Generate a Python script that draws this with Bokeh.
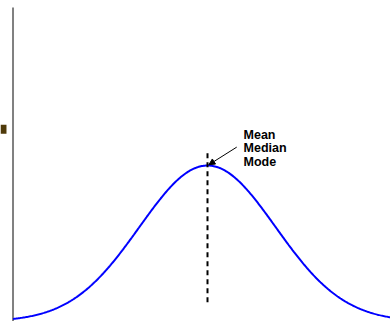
from bokeh.plotting import figure
from bokeh.models import Arrow, NormalHead, Range1d
from bokeh.core.properties import value
from bokeh.embed import file_html
from bokeh.resources import INLINE
import numpy as np

# distribution parameters
mean = 0.0
sd = 1.0
x_start, x_stop = -2.86, 3.0

# annotation texts
labels = ["Mean", "Median", "Mode"]
label_y = [0.4782, 0.4432, 0.4082]
label_x = 0.53

# dashed mean line extent
mean_line_y = [0.049, 0.437]

# axis line
axis_x = -2.86
axis_y = [0.803, 0.0]

# small legend-like marker
marker_x = [-3.0]
marker_y = [0.492]

xs = np.linspace(x_start, x_stop, 400)
ys = np.exp(-0.5 * ((xs - mean) / sd) ** 2) / (sd * np.sqrt(2 * np.pi))

p = figure(width=390, height=321, output_backend="svg", toolbar_location=None,
           x_range=Range1d(-3.044, 2.691), y_range=Range1d(0.0, 0.821),
           min_border_left=0, min_border_right=0, min_border_top=0, min_border_bottom=0)
p.axis.visible = False
p.grid.visible = False
p.outline_line_color = None
p.background_fill_color = "white"
p.border_fill_color = "white"

# left axis line
p.line([axis_x, axis_x], axis_y, line_color="#808080", line_width=2)

# marker
p.rect(marker_x, marker_y, width=0.088, height=0.023, fill_color="#4f3a0a", line_color=None)

# curve
p.line(xs, ys, line_color="#0000ff", line_width=2)

# dashed mean line
p.line([mean, mean], mean_line_y, line_color="black", line_width=2, line_dash="5 4")

# arrow
p.add_layout(Arrow(end=NormalHead(size=6, fill_color="black", line_color="black"),
                   x_start=0.43, y_start=0.446, x_end=0.02, y_end=0.401,
                   line_color="black", line_width=1))

p.text(x=[label_x] * 3, y=label_y, text=labels, text_font=value("Liberation Sans"),
       text_font_size="12.5px", text_font_style="bold", text_color="black",
       text_baseline="alphabetic", text_align="left")

html = file_html(p, INLINE)
html = html.replace("<head>", "<head><style>html,body{margin:0;padding:0;}</style>", 1)
open("out.html", "w").write(html)
